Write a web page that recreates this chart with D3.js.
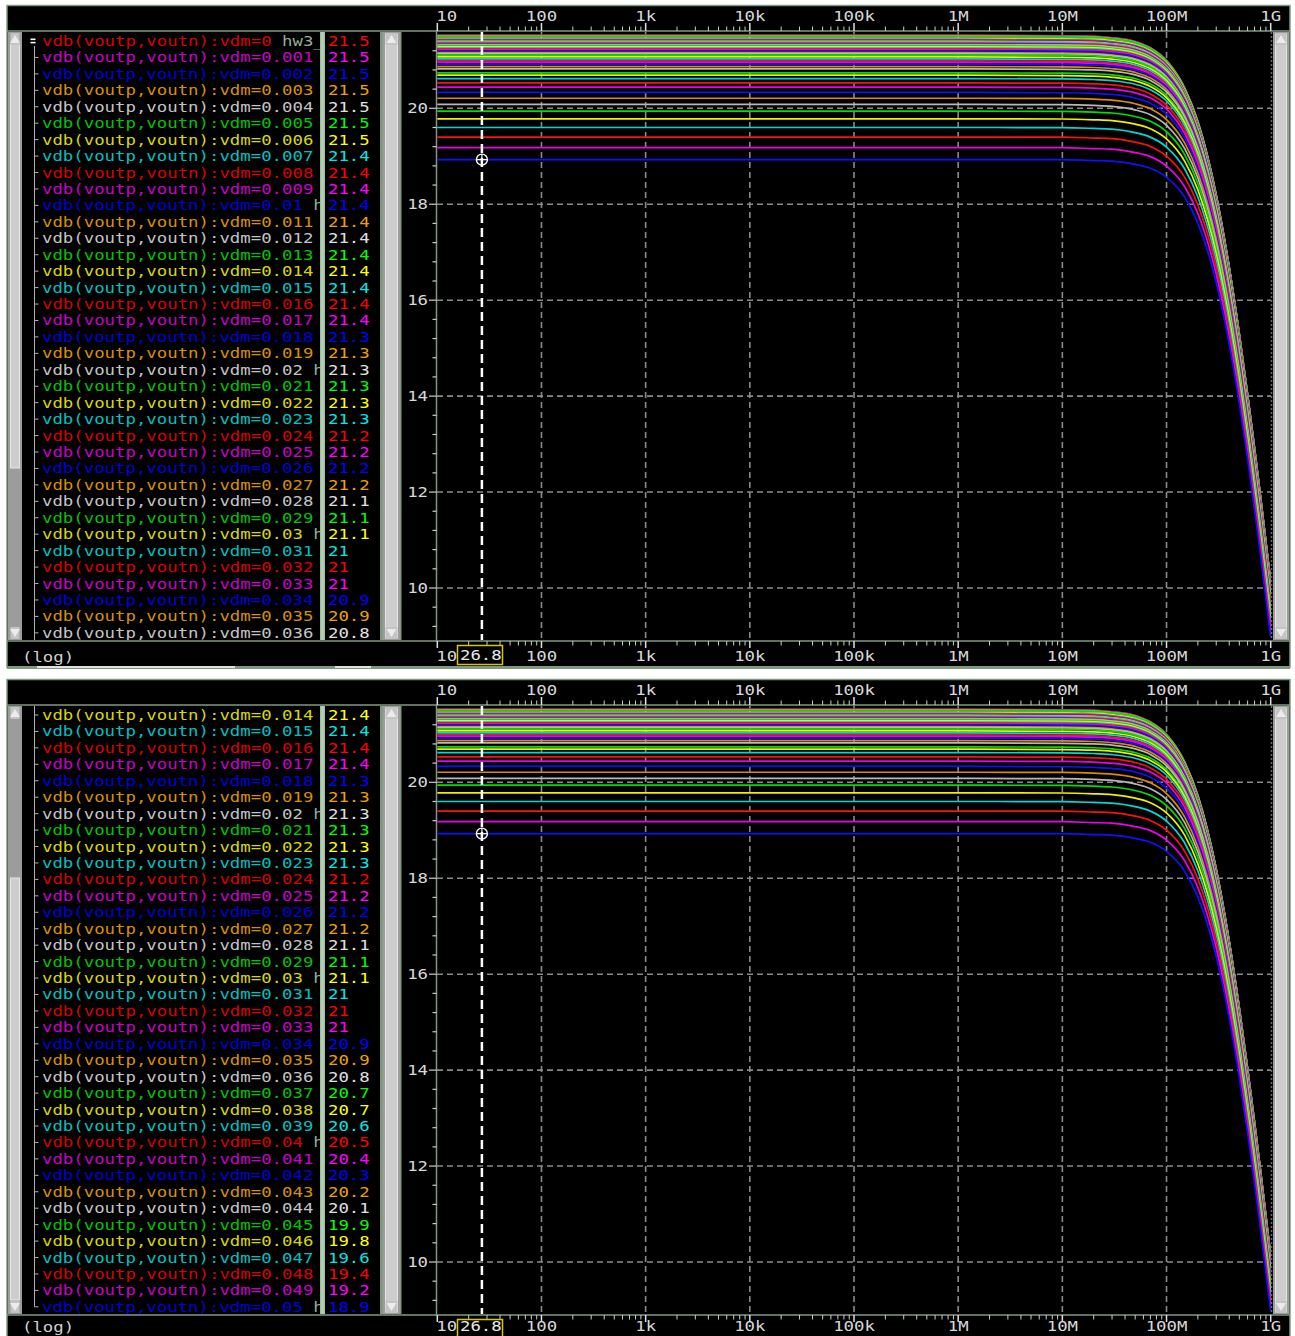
<!DOCTYPE html>
<html><head><meta charset="utf-8">
<script src="https://cdn.jsdelivr.net/npm/d3@7"></script>
<style>body{margin:0;background:#fff;overflow:hidden}</style>
</head><body><svg id="c" width="1295" height="1336" xmlns="http://www.w3.org/2000/svg"></svg>
<script>
// ---------------- data ----------------
const vdmLabels = ["0","0.001","0.002","0.003","0.004","0.005","0.006","0.007","0.008","0.009",
  "0.01","0.011","0.012","0.013","0.014","0.015","0.016","0.017","0.018","0.019",
  "0.02","0.021","0.022","0.023","0.024","0.025","0.026","0.027","0.028","0.029",
  "0.03","0.031","0.032","0.033","0.034","0.035","0.036","0.037","0.038","0.039",
  "0.04","0.041","0.042","0.043","0.044","0.045","0.046","0.047","0.048","0.049","0.05"];
// cursor read-outs shown in the legend (dB at 26.8 Hz)
const shownValues = ["21.5","21.5","21.5","21.5","21.5","21.5","21.5","21.4","21.4","21.4",
  "21.4","21.4","21.4","21.4","21.4","21.4","21.4","21.4","21.3","21.3",
  "21.3","21.3","21.3","21.3","21.2","21.2","21.2","21.2","21.1","21.1",
  "21.1","21","21","21","20.9","20.9","20.8","20.7","20.7","20.6",
  "20.5","20.4","20.3","20.2","20.1","19.9","19.8","19.6","19.4","19.2","18.9"];
// low-frequency gain of each trace (dB), estimated from line positions
const dcGain = [21.52,21.52,21.51,21.51,21.50,21.50,21.46,21.44,21.43,21.42,
  21.41,21.40,21.39,21.38,21.37,21.37,21.36,21.35,21.34,21.33,
  21.32,21.30,21.28,21.26,21.24,21.22,21.20,21.16,21.14,21.11,
  21.07,21.03,20.99,20.96,20.92,20.87,20.82,20.74,20.69,20.62,
  20.53,20.44,20.33,20.21,20.08,19.94,19.78,19.60,19.40,19.18,18.93];
const freqHz     = [10, 1e6, 1e7, 2e7, 3e7, 5e7, 7e7, 1e8, 1.5e8, 2e8, 3e8, 4e8, 5e8, 6e8, 7e8, 8e8, 1e9];
const dropTop    = [0, 0, 0.01, 0.02, 0.05, 0.13, 0.26, 0.52, 1.10, 1.79, 3.32, 4.83, 6.22, 7.48, 8.60, 9.62, 11.39];
const dropBottom = [0, 0, 0, 0.02, 0.03, 0.10, 0.18, 0.37, 0.79, 1.33, 2.56, 3.85, 5.09, 6.24, 7.30, 8.26, 9.96];
const xTickValues = [10,100,1e3,1e4,1e5,1e6,1e7,1e8,1e9];
const xTickLabels = ["10","100","1k","10k","100k","1M","10M","100M","1G"];
const yTickValues = [10,12,14,16,18,20];
const yTickLabels = ["10","12","14","16","18","20"];
const traceColors = ["#ff1010","#ee00ee","#1010ff","#d88c00","#b8b8b8","#00e000","#f0f000","#00d8d8"];
const nameColors  = ["#d80000","#c800c8","#0000d8","#d89000","#c4c4c4","#00c400","#d8d800","#00c0c0"];
const valueColors = ["#ff0000","#ff00ff","#0000ff","#f0a000","#e0e0e0","#00ff00","#ffff00","#00e8e8"];
const cursorFreq = 26.8;
const cursorText = "26.8";

// ---------------- drawing ----------------
const svg = d3.select("#c");
const FONT = "'DejaVu Sans Mono','Liberation Mono',monospace";
const FS = 13.5;
const SX = 1.285;
const FRAME = "#809880";
const x = d3.scaleLog().domain([10,1e9]).range([437.3,1270.7]);
const y = d3.scaleLinear().domain([10,20]).range([588,108.3]);

const defs = svg.append("defs");
defs.append("clipPath").attr("id","legclip").append("rect").attr("x",24).attr("y",32).attr("width",296).attr("height",608);
defs.append("clipPath").attr("id","valclip").append("rect").attr("x",325).attr("y",32).attr("width",55).attr("height",608);
defs.append("clipPath").attr("id","plotclip").append("rect").attr("x",437).attr("y",32).attr("width",834).attr("height",608);

function txt(p, tx, ty, s, fill, anchor){
  return p.append("text").attr("transform",`translate(${tx},${ty}) scale(${SX},1)`)
    .attr("font-family",FONT).attr("font-size",FS).attr("fill",fill)
    .attr("text-anchor",anchor||"start").text(s);
}
function rect(p,x0,y0,w,h,fill,stroke){
  const r=p.append("rect").attr("x",x0).attr("y",y0).attr("width",w).attr("height",h).attr("fill",fill);
  if(stroke) r.attr("stroke",stroke).attr("stroke-width",1);
  return r;
}
function tri(p,cx,cy,up,fill){
  const d = up ? `M${cx},${cy-4}L${cx-5},${cy+4}L${cx+5},${cy+4}Z` : `M${cx},${cy+4}L${cx-5},${cy-4}L${cx+5},${cy-4}Z`;
  p.append("path").attr("d",d).attr("fill",fill);
}
function scrollbar(p,x0,w,y0,y1,t0,t1){
  rect(p,x0,y0,w,y1-y0,"#9c9c9c");
  rect(p,x0+2.5,t0,w-5,t1-t0,"#cdcdcd","#e6e6e6");
  rect(p,x0+2.5,y0+1,w-5,12,"#c4c4c4");
  tri(p,x0+w/2,y0+7,true,"#ececec");
  rect(p,x0+2.5,y1-13,w-5,12,"#c4c4c4");
  tri(p,x0+w/2,y1-7,false,"#ececec");
}

const minorX = [];
for(let e=1;e<9;e++) for(let m=2;m<10;m++) minorX.push(m*Math.pow(10,e));

function drawPanel(D, firstRow, t0, t1, isTop, bottomBase){
  const g = svg.append("g").attr("transform",`translate(0,${D})`);
  // frame
  rect(g,7,5,1283,663,"#000");
  g.append("line").attr("x1",7).attr("x2",7).attr("y1",5).attr("y2",668).attr("stroke",FRAME).attr("stroke-width",1.5);
  g.append("line").attr("x1",1290).attr("x2",1290).attr("y1",5).attr("y2",668).attr("stroke",FRAME).attr("stroke-width",1.5);
  g.append("line").attr("x1",7).attr("x2",1290).attr("y1",5.5).attr("y2",5.5).attr("stroke",FRAME).attr("stroke-width",1.5);
  g.append("line").attr("x1",7).attr("x2",1290).attr("y1",31).attr("y2",31).attr("stroke",FRAME).attr("stroke-width",1.5);
  g.append("line").attr("x1",7).attr("x2",1290).attr("y1",641).attr("y2",641).attr("stroke",FRAME).attr("stroke-width",1.5);
  rect(g,7,666,1283,3,FRAME);
  if(isTop){ rect(g,37,666,198,2,"#e0e0e0"); rect(g,335,666,36,2,"#e0e0e0"); }

  // left scrollbar
  scrollbar(g,8,14,32,640,t0,t1);
  // legend rows
  const leg = g.append("g").attr("clip-path","url(#legclip)");
  const val = g.append("g").attr("clip-path","url(#valclip)");
  const nRows = 37, maxChars = 27;
  const rowY = r => 41 + r*16.44;
  for(let r=0;r<nRows;r++){
    const k = firstRow + r;
    if(k>=vdmLabels.length) break;
    const yc = rowY(r);
    const ci = k % 8;
    const name = "vdb(voutp,voutn):vdm="+vdmLabels[k];
    const suffix = (" hw3_tb_ac").slice(0, Math.max(0, maxChars-name.length));
    const t = leg.append("text").attr("transform",`translate(42,${yc+5}) scale(${SX},1)`)
      .attr("font-family",FONT).attr("font-size",FS);
    t.append("tspan").attr("fill",nameColors[ci]).text(name);
    if(suffix.length) t.append("tspan").attr("fill","#98ac98").text(suffix);
    txt(val,328,yc+5,shownValues[k],valueColors[ci]);
    if(k===0){
      rect(g,30.5,38.5,5,1.6,"#ffffff"); rect(g,30.5,41.8,5,1.6,"#ffffff");
    } else {
      g.append("line").attr("x1",34.5).attr("x2",38.5).attr("y1",yc).attr("y2",yc).attr("stroke","#b0b0b0");
    }
  }
  const lastIdx = Math.min(nRows-1, vdmLabels.length-1-firstRow);
  const yEnd = (firstRow+nRows-1 >= vdmLabels.length-1) ? rowY(lastIdx) : 640;
  g.append("line").attr("x1",34.5).attr("x2",34.5).attr("y1",firstRow===0?46:32).attr("y2",yEnd).attr("stroke","#b0b0b0");
  // separators
  rect(g,320,32,5,608,"#9fc09f");
  rect(g,321.5,32,2,608,"#b8d4b8");
  rect(g,380,32,3,608,FRAME);
  scrollbar(g,383,17,32,640,34,638);
  rect(g,400,32,1.5,608,FRAME);

  // y axis
  g.append("line").attr("x1",436.5).attr("x2",436.5).attr("y1",31).attr("y2",641).attr("stroke",FRAME).attr("stroke-width",1.5);
  for(let v=8.8; v<=21.61; v+=0.4){
    const vv = Math.round(v*10)/10;
    const yy = y(vv);
    if(yy<33||yy>640) continue;
    const major = yTickValues.includes(vv);
    g.append("line").attr("x1",major?429:432.5).attr("x2",436.5).attr("y1",yy).attr("y2",yy).attr("stroke","#c8d0c8").attr("stroke-width",1.2);
  }
  yTickValues.forEach((v,i)=> txt(g,428,y(v)+5,yTickLabels[i],"#d8d8d8","end"));

  // x axes: top (header) and bottom bar
  xTickValues.forEach((v,i)=>{
    const xx = x(v);
    g.append("line").attr("x1",xx).attr("x2",xx).attr("y1",23).attr("y2",31).attr("stroke","#e0e0e0").attr("stroke-width",1.5);
    g.append("line").attr("x1",xx).attr("x2",xx).attr("y1",641).attr("y2",648).attr("stroke","#e0e0e0").attr("stroke-width",1.5);
    const anchor = i===0 ? "start" : "middle";
    txt(g,xx-(i===0?1:0),21,xTickLabels[i],"#d8d8d8",anchor);
    txt(g,xx-(i===0?1:0),bottomBase,xTickLabels[i],"#d8d8d8",anchor);
  });
  minorX.forEach(v=>{
    const xx = x(v);
    g.append("line").attr("x1",xx).attr("x2",xx).attr("y1",26.5).attr("y2",31).attr("stroke","#c8d0c8");
    g.append("line").attr("x1",xx).attr("x2",xx).attr("y1",641).attr("y2",645.5).attr("stroke","#c8d0c8");
  });
  txt(g,22,bottomBase+1,"(log)","#d0d0d0");

  // plot area
  const plot = g.append("g").attr("clip-path","url(#plotclip)");
  yTickValues.forEach(v=>{
    plot.append("line").attr("x1",437).attr("x2",1271).attr("y1",y(v)).attr("y2",y(v))
      .attr("stroke","#8a8a8a").attr("stroke-width",1.6).attr("stroke-dasharray","6,4");
  });
  xTickValues.slice(1,8).forEach(v=>{
    plot.append("line").attr("x1",x(v)).attr("x2",x(v)).attr("y1",32).attr("y2",640)
      .attr("stroke","#8a8a8a").attr("stroke-width",1.6).attr("stroke-dasharray","6,4");
  });
  const line = d3.line().x(d=>x(d[0])).y(d=>y(d[1])).curve(d3.curveMonotoneX);
  const span = dcGain[0]-dcGain[dcGain.length-1];
  dcGain.forEach((dc,k)=>{
    const t = (dcGain[0]-dc)/span;
    const pts = freqHz.map((f,i)=>[f, dc - ((1-t)*dropTop[i] + t*dropBottom[i])]);
    plot.append("path").attr("d",line(pts)).attr("fill","none")
      .attr("stroke",traceColors[k%8]).attr("stroke-width",1.7);
  });
  g.append("line").attr("x1",1271.5).attr("x2",1271.5).attr("y1",32).attr("y2",640)
    .attr("stroke","#6a6a6a").attr("stroke-width",1.5).attr("stroke-dasharray","2,2");
  scrollbar(g,1273,16,32,640,34,638);

  // cursor
  const xc = x(cursorFreq);
  plot.append("line").attr("x1",xc).attr("x2",xc).attr("y1",32).attr("y2",640)
    .attr("stroke","#ffffff").attr("stroke-width",2.5).attr("stroke-dasharray","9,5");
  const ym = y(dcGain[dcGain.length-1]);
  plot.append("circle").attr("cx",xc).attr("cy",ym).attr("r",5.5).attr("fill","none").attr("stroke","#fff").attr("stroke-width",1.4);
  plot.append("line").attr("x1",xc-5.5).attr("x2",xc+5.5).attr("y1",ym).attr("y2",ym).attr("stroke","#fff").attr("stroke-width",1.2);
  plot.append("line").attr("x1",xc).attr("x2",xc).attr("y1",ym-5.5).attr("y2",ym+5.5).attr("stroke","#fff").attr("stroke-width",1.2);
  rect(g,457.5,645.5,45,19,"#000").attr("stroke","#d8c800").attr("stroke-width",1.5);
  txt(g,460,Math.min(660,bottomBase),cursorText,"#e8e8e8");
}

drawPanel(0, 0, 44, 468, true, 661);
drawPanel(674, 14, 878-674, 1300-674, false, 657);
</script>
</body></html>
